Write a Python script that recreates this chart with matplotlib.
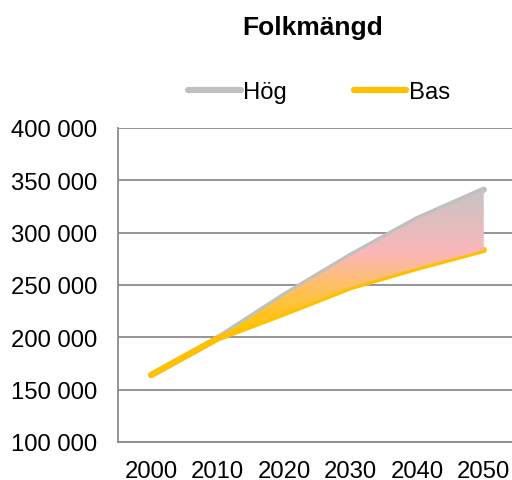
import numpy as np
import matplotlib.pyplot as plt
from matplotlib.colors import LinearSegmentedColormap
from matplotlib.ticker import FuncFormatter

plt.rcParams['font.family'] = ['Liberation Sans', 'DejaVu Sans']

# data
years = [2000, 2010, 2020, 2030, 2040, 2050]
hog = [164000, 199000, 240000, 278000, 313000, 341000]
bas = [164000, 199000, 223000, 248000, 266500, 283500]

fig = plt.figure(figsize=(5.12, 4.81), dpi=100)
ax = fig.add_axes([118/512, 1-443/481, 399/512, 314/481])

ax.set_yticks(range(100000, 400001, 50000))
ax.set_xticks(years)
ax.yaxis.set_major_formatter(FuncFormatter(lambda v, p: "{:,}".format(int(v)).replace(",", " ")))
ax.tick_params(length=0, labelsize=17.2)
ax.tick_params(axis='y', pad=15)
ax.tick_params(axis='x', pad=13)
ax.grid(axis='y', color='#8c8c8c', lw=1.3)
ax.set_axisbelow(True)
for s in ['top', 'right']:
    ax.spines[s].set_visible(False)
for s in ['left', 'bottom']:
    ax.spines[s].set_color('#8c8c8c')
    ax.spines[s].set_linewidth(1.3)

ax.plot(years, hog, color='#c0c0c0', lw=4.5, solid_capstyle='round', label='Hög', zorder=2)
ax.plot(years, bas, color='#ffc000', lw=4.5, solid_capstyle='round', label='Bas', zorder=2.5)

# gradient fill between the two scenarios, on top of the lines
poly = ax.fill_between(years, bas, hog, color='none', lw=0)
cmap = LinearSegmentedColormap.from_list('g', [(0, '#ffc400'), (0.25, '#ffc24a'),
                                               (0.55, '#fbb7b9'), (1, '#c6c4c4')])
grad = np.linspace(0, 1, 256).reshape(-1, 1)
im = ax.imshow(grad, cmap=cmap, origin='lower', aspect='auto',
               extent=[1995, 2055, 205000, 342000], zorder=3)
im.set_clip_path(poly.get_paths()[0], transform=ax.transData)
ax.set_xlim(1995, 2055)
ax.set_ylim(100000, 400000)

fig.text(313/512, 1-35/481, 'Folkmängd', ha='center', va='baseline',
         fontsize=19, fontweight='bold')

fig.legend(loc='center', bbox_to_anchor=(319/512, 1-93/481), ncol=2, frameon=False,
           fontsize=17.2, handlelength=2.2, handletextpad=0.1, columnspacing=2.8)

fig.savefig('out.png', dpi=100)
